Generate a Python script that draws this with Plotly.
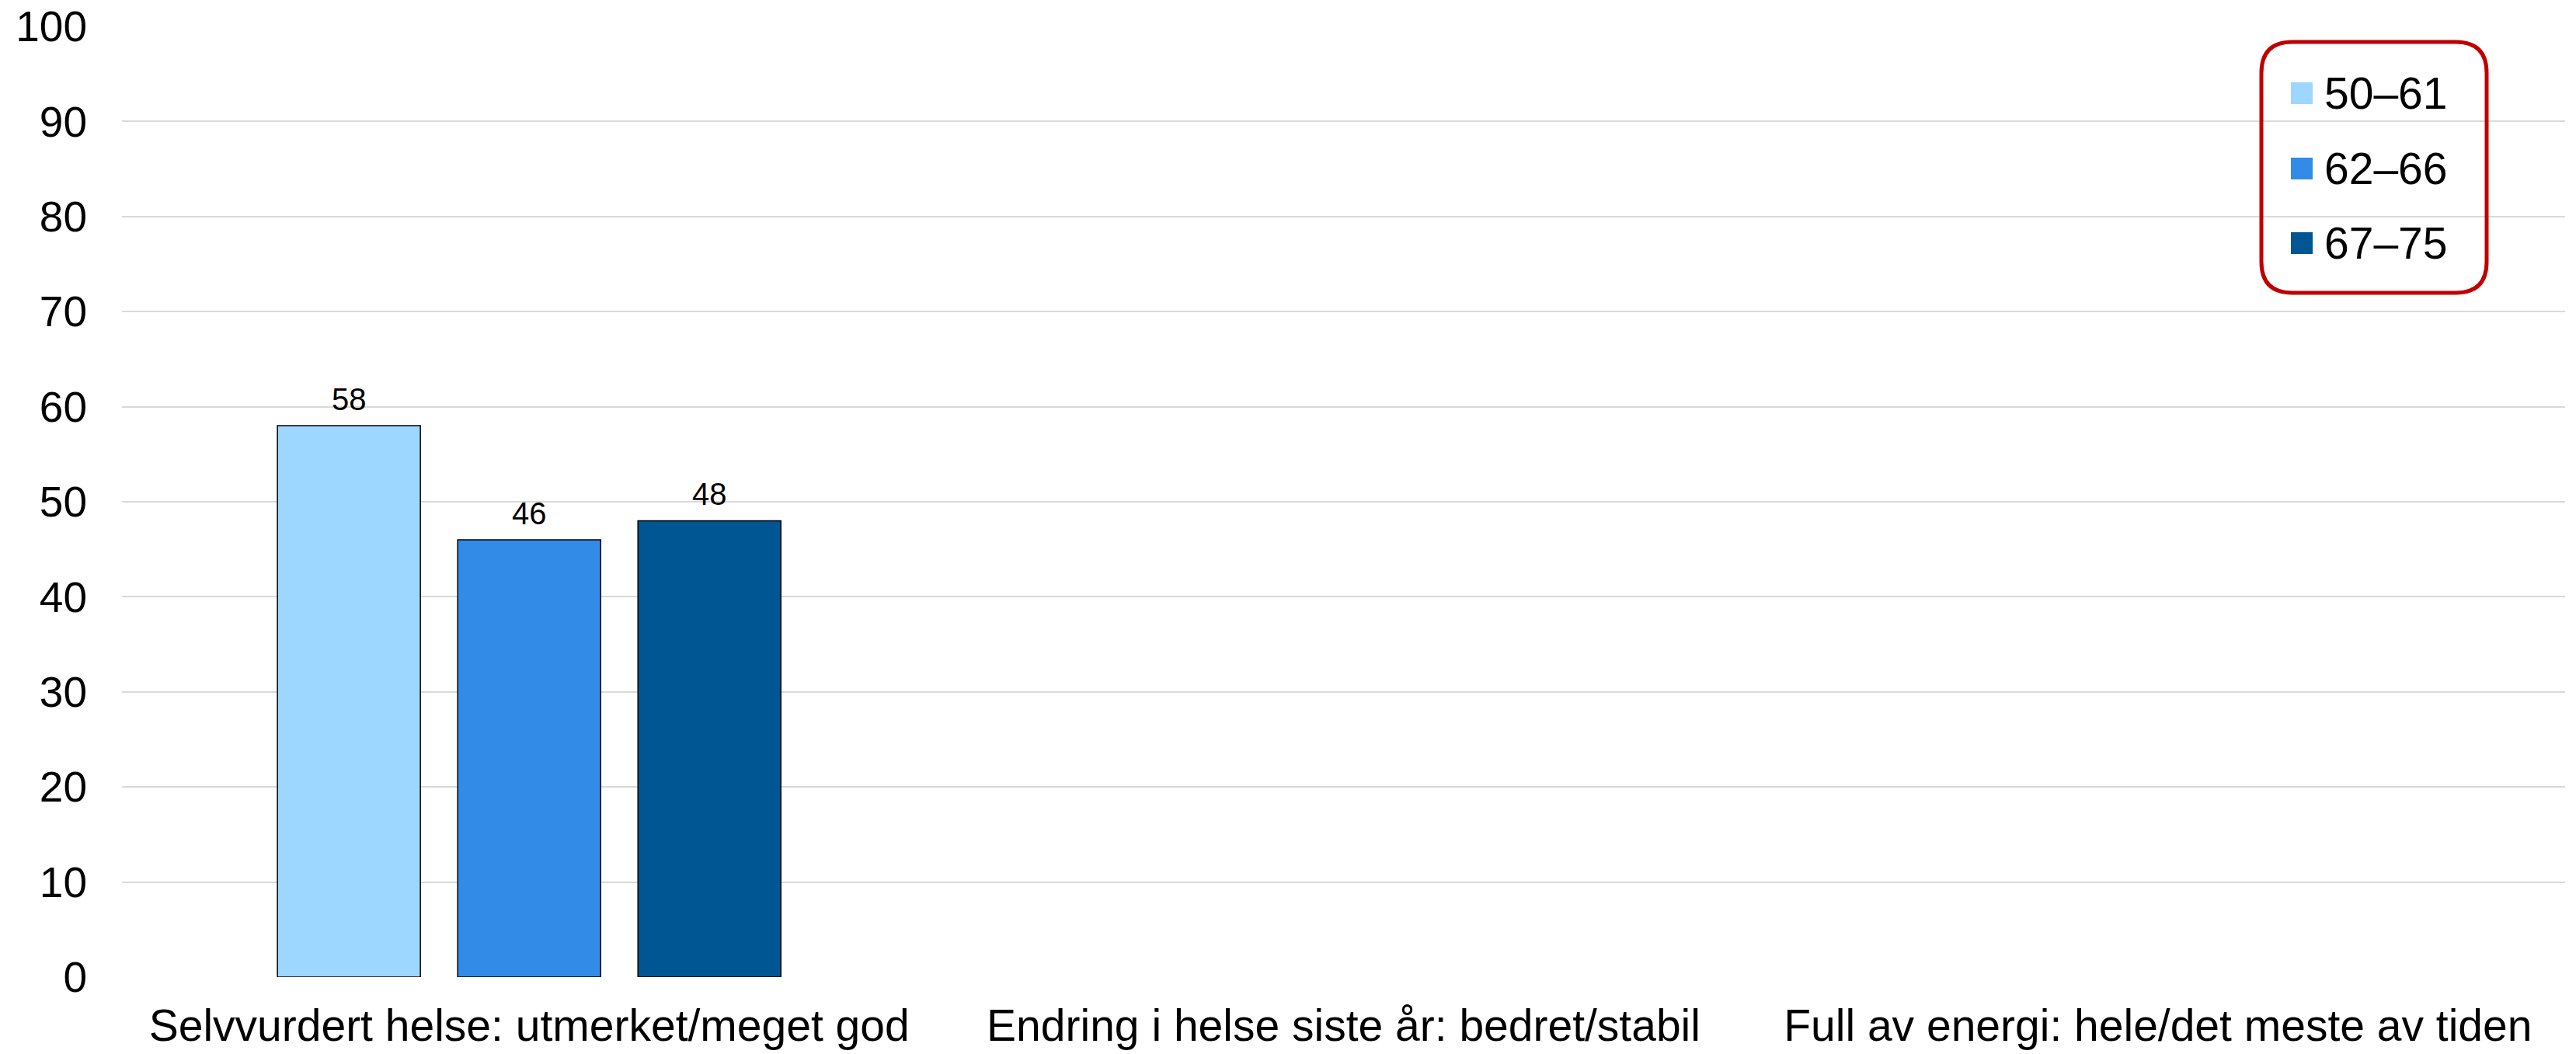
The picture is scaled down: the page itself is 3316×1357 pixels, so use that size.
import plotly.graph_objects as go

# Survey categories and share (%) per age group
categories = [
    "Selvvurdert helse: utmerket/meget god",
    "Endring i helse siste år: bedret/stabil",
    "Full av energi: hele/det meste av tiden",
]
age_groups = ["50–61", "62–66", "67–75"]
values_50_61 = [58, None, None]
values_62_66 = [46, None, None]
values_67_75 = [48, None, None]
series_values = [values_50_61, values_62_66, values_67_75]
colors = ["#9DD7FF", "#338BE8", "#005593"]
y_ticks = [0, 10, 20, 30, 40, 50, 60, 70, 80, 90, 100]

FONT = "Liberation Sans, Arial, sans-serif"
W, H = 3316, 1357
ML, MR, MT, MB = 157, 14, 34, 99
PW, PH = W - ML - MR, H - MT - MB


def px_x(px):
    return (px - ML) / PW


def px_y(py):
    return (H - MB - py) / PH


fig = go.Figure()
for name, vals, col in zip(age_groups, series_values, colors):
    fig.add_trace(go.Bar(
        name=name, x=categories, y=vals,
        marker=dict(color=col, line=dict(color="#000000", width=1.5)),
        showlegend=False, hoverinfo="skip",
    ))

fig.update_layout(
    width=W, height=H,
    margin=dict(l=ML, r=MR, t=MT, b=MB, pad=0),
    plot_bgcolor="white", paper_bgcolor="white",
    barmode="group", bargap=0.336, bargroupgap=0.207,
    font=dict(family=FONT, color="#000000"),
)
fig.update_xaxes(
    showgrid=False, showline=False, zeroline=False, automargin=False,
    tickfont=dict(size=57, family=FONT), ticks="", ticklabelstandoff=24,
)
fig.update_yaxes(
    range=[0, 100], tickvals=y_ticks, showgrid=True, automargin=False,
    gridcolor="#D9D9D9", gridwidth=2, zeroline=False, showline=False,
    tickfont=dict(size=55, family=FONT), ticks="", ticklabelstandoff=44,
)

# Value labels above the bars
n = len(age_groups)
slot = (1 - 0.336) / n
annotations = []
for gi, vals in enumerate(series_values):
    for ci, v in enumerate(vals):
        if v is None:
            continue
        offset = (gi - (n - 1) / 2) * slot
        annotations.append(dict(
            x=ci + offset, y=v, xref="x", yref="y", text=str(v),
            showarrow=False, yanchor="bottom", yshift=10,
            font=dict(size=40, family=FONT, color="#000000"),
        ))

# Legend drawn with shapes and text inside a rounded red frame
shapes = []
bx0, by0, bx1, by1, r = 2911, 54, 3201, 377, 40
path = (
    f"M {px_x(bx0 + r)},{px_y(by0)} L {px_x(bx1 - r)},{px_y(by0)} "
    f"Q {px_x(bx1)},{px_y(by0)} {px_x(bx1)},{px_y(by0 + r)} "
    f"L {px_x(bx1)},{px_y(by1 - r)} "
    f"Q {px_x(bx1)},{px_y(by1)} {px_x(bx1 - r)},{px_y(by1)} "
    f"L {px_x(bx0 + r)},{px_y(by1)} "
    f"Q {px_x(bx0)},{px_y(by1)} {px_x(bx0)},{px_y(by1 - r)} "
    f"L {px_x(bx0)},{px_y(by0 + r)} "
    f"Q {px_x(bx0)},{px_y(by0)} {px_x(bx0 + r)},{px_y(by0)} Z"
)
shapes.append(dict(type="path", xref="paper", yref="paper", path=path,
                   line=dict(color="#C00000", width=5), fillcolor="rgba(0,0,0,0)"))
row_centers = [120, 217, 313]
for name, col, cy in zip(age_groups, colors, row_centers):
    shapes.append(dict(type="rect", xref="paper", yref="paper",
                       x0=px_x(2949), x1=px_x(2977), y0=px_y(cy - 14), y1=px_y(cy + 14),
                       fillcolor=col, line=dict(width=0)))
    annotations.append(dict(
        x=px_x(2990), y=px_y(cy), xref="paper", yref="paper", text=name,
        showarrow=False, xanchor="left", yanchor="middle",
        font=dict(size=57, family=FONT, color="#000000"),
    ))

fig.update_layout(shapes=shapes, annotations=annotations)
fig.write_html("out.html")
